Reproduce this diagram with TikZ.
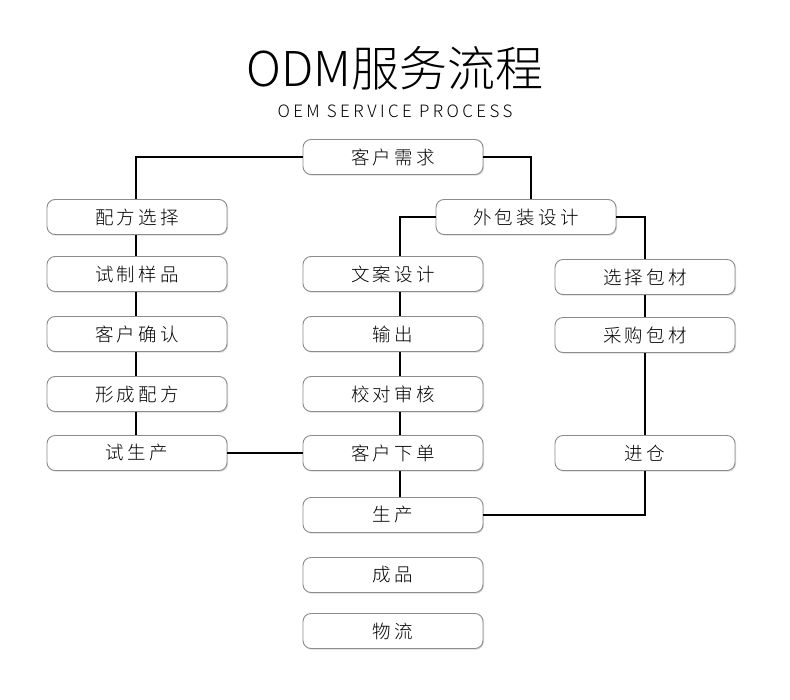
\documentclass[tikz,border=0pt]{standalone}
\usepackage{fontspec}
\setmainfont{Noto Sans CJK SC}[UprightFont={* Light}]
\newfontfamily\boxfont{Noto Sans CJK SC}[UprightFont={* Light}, LetterSpace=18]
\newfontfamily\subfont{Noto Sans CJK SC}[UprightFont={* Light}, LetterSpace=20]
\usetikzlibrary{shadows,calc}
\tikzset{
  stepbox/.style={draw=black!45, line width=0.9pt, rounded corners=8pt, fill=white,
    minimum width=180pt, minimum height=35pt, inner sep=0pt,
    font=\boxfont\fontsize{18.5}{20}\selectfont, text=black,
    drop shadow={shadow xshift=1pt, shadow yshift=-1.2pt, opacity=0.25, fill=black!60}},
  link/.style={draw=black, line width=1.3pt}
}
\begin{document}
\begin{tikzpicture}[x=1pt,y=-1pt]
\useasboundingbox (0,0) rectangle (790,699);
\node (title) at (395,68) {\fontsize{48}{52}\selectfont ODM服务流程};
\node (sub) at (395,111) {\subfont\fontsize{17}{20}\selectfont OEM SERVICE PROCESS};

\node[stepbox] (need) at (393,157) {客户需求};
\node[stepbox] (pack) at (526,217) {外包装设计};

\node[stepbox] (pf1) at (137,217) {配方选择};
\node[stepbox] (pf2) at (137,274) {试制样品};
\node[stepbox] (pf3) at (137,334) {客户确认};
\node[stepbox] (pf4) at (137,394) {形成配方};
\node[stepbox] (pf5) at (137,453) {试生产};

\node[stepbox] (m1) at (393,274) {文案设计};
\node[stepbox] (m2) at (393,334) {输出};
\node[stepbox] (m3) at (393,394) {校对审核};
\node[stepbox] (m4) at (393,453) {客户下单};
\node[stepbox] (m5) at (393,515) {生产};
\node[stepbox] (m6) at (393,575) {成品};
\node[stepbox] (m7) at (393,631) {物流};

\node[stepbox] (r1) at (645,277) {选择包材};
\node[stepbox] (r2) at (645,335) {采购包材};
\node[stepbox] (r3) at (645,453) {进仓};

\draw[link] (need.west) -| ([xshift=-1pt]pf1.north);
\draw[link] (need.east) -| ([xshift=5pt]pack.north);
\draw[link] (pack.west) -| ([xshift=7pt]m1.north);
\draw[link] (pack.east) -| (r1.north);
\draw[link] ([xshift=-1pt]pf1.south) -- ([xshift=-1pt]pf2.north);
\draw[link] ([xshift=-1pt]pf2.south) -- ([xshift=-1pt]pf3.north);
\draw[link] ([xshift=-1pt]pf3.south) -- ([xshift=-1pt]pf4.north);
\draw[link] ([xshift=-1pt]pf4.south) -- ([xshift=-1pt]pf5.north);
\draw[link] ([xshift=7pt]m1.south) -- ([xshift=7pt]m2.north);
\draw[link] ([xshift=7pt]m2.south) -- ([xshift=7pt]m3.north);
\draw[link] ([xshift=7pt]m3.south) -- ([xshift=7pt]m4.north);
\draw[link] ([xshift=7pt]m4.south) -- ([xshift=7pt]m5.north);
\draw[link] (r1.south) -- (r2.north);
\draw[link] (r2.south) -- (r3.north);
\draw[link] (r3.south) |- (m5.east);
\draw[link] (pf5.east) -- (m4.west);
\end{tikzpicture}
\end{document}
